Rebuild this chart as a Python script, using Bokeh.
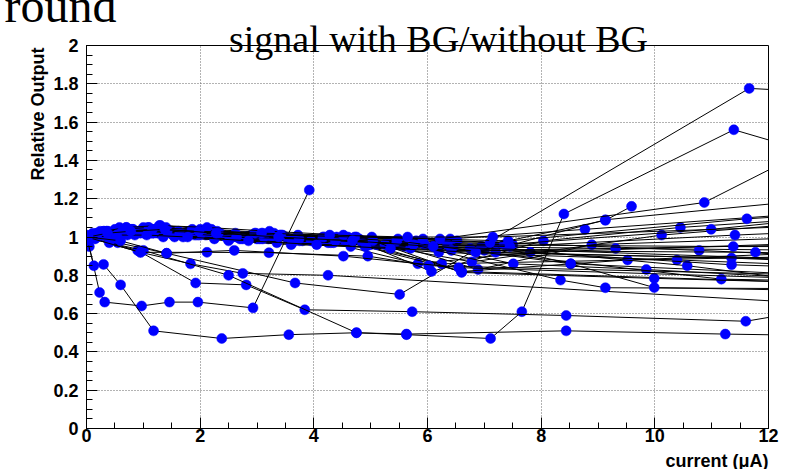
import math
from bokeh.plotting import figure
from bokeh.models import Label, Title, SingleIntervalTicker, CustomJSTickFormatter, Range1d
from bokeh.embed import file_html
from bokeh.resources import INLINE

# ---------------- data ----------------
series_x = [
    [0.00, 0.05, 0.23, 0.32, 0.97, 1.46, 1.96, 2.93, 3.92],
    [0.00, 0.13, 0.30, 0.60, 1.18, 2.38, 3.56, 4.75, 5.63, 7.11, 7.66, 8.40, 11.39, 13.0],
    [0.00, 0.90, 1.92, 2.81, 3.84, 5.73, 8.44, 11.60, 13.0],
    [0.00, 0.55, 1.41, 3.67, 5.51, 11.66, 13.0],
    [0.00, 0.95, 1.83, 2.75, 4.25, 13.0],
    [0.00, 0.40, 1.00, 2.50, 4.75, 5.63, 8.44, 11.24, 13.0],
    [0.00, 0.10, 0.35, 0.80, 1.50, 2.40, 3.50, 4.80, 6.10, 13.0],
    [0.02, 0.20, 0.50, 1.00, 1.80, 2.90, 4.10, 5.50, 7.20, 8.52, 13.0],
    [0.01, 0.12, 0.40, 0.95, 1.70, 2.70, 3.80, 5.00, 6.60, 13.0],
    [0.03, 0.25, 0.60, 1.20, 2.00, 3.10, 4.40, 5.80, 7.50, 9.13, 13.0],
    [0.00, 0.18, 0.55, 1.10, 1.90, 3.00, 4.30, 5.83, 7.81, 13.0],
    [0.02, 0.30, 0.70, 1.30, 2.20, 3.30, 4.60, 6.07, 8.04, 10.45, 13.0],
    [0.01, 0.08, 0.28, 0.65, 1.25, 2.10, 3.20, 4.50, 6.25, 13.0],
    [0.04, 0.22, 0.48, 1.05, 1.75, 2.80, 4.00, 5.30, 6.89, 8.89, 13.0],
    [0.00, 0.15, 0.42, 0.85, 1.55, 2.50, 3.60, 4.90, 6.60, 9.52, 13.0],
    [0.02, 0.35, 0.75, 1.40, 2.30, 3.40, 4.70, 6.10, 7.51, 9.85, 13.0],
    [0.01, 0.12, 0.38, 0.78, 1.45, 2.35, 3.45, 4.75, 6.40, 8.77, 13.0],
    [0.03, 0.28, 0.62, 1.15, 1.95, 3.05, 4.25, 5.60, 7.00, 9.31, 13.0],
    [0.00, 0.20, 0.52, 0.98, 1.65, 2.65, 3.75, 5.10, 6.78, 10.12, 13.0],
    [0.02, 0.10, 0.32, 0.72, 1.35, 2.25, 3.35, 4.65, 6.20, 10.39, 13.0],
    [0.01, 0.24, 0.58, 1.08, 1.85, 2.95, 4.15, 5.45, 6.95, 10.57, 13.0],
    [0.04, 0.16, 0.46, 0.92, 1.62, 2.62, 3.72, 5.02, 6.52, 10.78, 13.0],
    [0.00, 0.30, 0.68, 1.22, 2.05, 3.15, 4.45, 5.85, 7.35, 10.99, 13.0],
    [0.02, 0.14, 0.44, 0.88, 1.58, 2.55, 3.65, 4.95, 6.45, 11.17, 13.0],
    [0.01, 0.26, 0.64, 1.18, 2.00, 3.10, 4.35, 5.70, 7.20, 11.35, 13.0],
    [0.03, 0.19, 0.50, 1.02, 1.72, 2.75, 3.95, 5.25, 6.75, 11.35, 13.0],
    [0.00, 0.11, 0.36, 0.82, 1.48, 2.45, 3.55, 4.85, 6.35, 11.38, 13.0],
    [0.02, 0.33, 0.72, 1.32, 2.15, 3.25, 4.55, 5.95, 7.45, 11.41, 13.0],
    [0.01, 0.21, 0.56, 1.12, 1.88, 2.98, 4.18, 5.48, 7.10, 11.62, 13.0],
    [0.03, 0.13, 0.41, 0.86, 1.52, 2.52, 3.62, 4.92, 6.42, 11.77, 13.0],
    [0.00, 0.27, 0.66, 1.20, 2.02, 3.12, 4.38, 5.75, 8.34, 9.13, 13.0],
    [0.02, 0.17, 0.47, 0.94, 1.64, 2.64, 3.74, 5.04, 6.60, 9.99, 13.0],
    [0.01, 0.23, 0.59, 1.10, 1.86, 2.96, 4.16, 5.46, 8.52, 9.99, 13.0],
    [0.04, 0.31, 0.70, 1.28, 2.12, 3.22, 4.52, 5.92, 7.42, 9.13, 9.59],
    [0.00, 0.09, 0.34, 0.76, 1.42, 2.32, 3.42, 4.72, 6.22, 10.87, 13.0],
    [0.02, 0.29, 0.63, 1.16, 1.98, 3.08, 4.28, 5.65, 7.15, 13.0],
    [0.01, 0.18, 0.53, 1.06, 1.78, 2.85, 4.05, 5.35, 6.85, 13.0],
    [0.03, 0.37, 0.78, 1.38, 2.28, 3.38, 4.68, 6.10, 13.0],
    [0.00, 0.95, 2.12, 3.21, 4.95, 6.02, 13.0],
    [0.02, 0.60, 1.41, 2.60, 4.52, 6.55, 13.0],
]

series_y = [
    [1.00, 0.95, 0.71, 0.66, 0.64, 0.66, 0.66, 0.63, 1.245],
    [1.00, 0.85, 0.857, 0.75, 0.51, 0.47, 0.49, 0.50, 0.49, 0.47, 0.61, 1.12, 1.56, 1.42],
    [1.00, 0.93, 0.76, 0.75, 0.62, 0.61, 0.59, 0.56, 0.63],
    [1.00, 0.97, 0.915, 0.76, 0.70, 1.776, 1.755],
    [1.00, 0.92, 0.86, 0.81, 0.80, 0.65],
    [1.00, 0.97, 0.93, 0.80, 0.50, 0.493, 0.51, 0.493, 0.485],
    [1.00, 1.01, 1.03, 1.04, 1.03, 1.01, 1.00, 0.99, 0.95, 0.93],
    [1.00, 1.02, 1.04, 1.05, 1.03, 1.01, 0.99, 0.97, 0.95, 0.86, 0.80],
    [0.99, 1.00, 1.01, 1.02, 1.00, 0.99, 0.98, 0.96, 0.82, 0.76],
    [1.00, 1.01, 1.03, 1.04, 1.04, 1.02, 1.00, 0.98, 0.96, 1.09, 1.20],
    [1.01, 1.02, 1.02, 1.03, 1.01, 0.99, 0.97, 0.86, 0.92, 0.97],
    [1.00, 1.03, 1.05, 1.06, 1.04, 1.02, 1.00, 0.82, 0.98, 1.05, 1.10],
    [1.00, 1.00, 1.01, 1.02, 1.02, 1.01, 0.99, 0.98, 0.86, 0.90],
    [1.00, 1.02, 1.03, 1.03, 1.02, 1.00, 0.98, 0.97, 0.83, 0.96, 1.00],
    [0.98, 0.99, 1.00, 1.01, 1.00, 0.98, 0.96, 0.95, 0.82, 0.88, 0.92],
    [1.00, 1.02, 1.04, 1.05, 1.03, 1.01, 0.99, 0.95, 0.86, 0.83, 0.78],
    [1.00, 1.01, 1.03, 1.04, 1.03, 1.02, 1.01, 1.00, 0.99, 1.04, 1.13],
    [1.00, 1.01, 1.02, 1.02, 1.01, 0.99, 0.97, 0.95, 0.93, 0.94, 0.96],
    [1.00, 1.02, 1.03, 1.03, 1.02, 1.00, 0.98, 0.96, 0.87, 1.01, 1.08],
    [0.99, 1.00, 1.01, 1.01, 1.00, 0.99, 0.97, 0.95, 0.92, 0.88, 0.85],
    [1.00, 1.03, 1.05, 1.05, 1.03, 1.01, 0.99, 0.97, 0.95, 0.85, 0.76],
    [1.00, 1.01, 1.02, 1.03, 1.03, 1.02, 1.01, 1.00, 0.98, 0.93, 0.90],
    [1.00, 1.02, 1.03, 1.04, 1.03, 1.01, 0.99, 0.97, 0.96, 1.04, 1.10],
    [1.00, 1.01, 1.02, 1.03, 1.02, 1.00, 0.98, 0.96, 0.94, 0.78, 0.77],
    [0.99, 1.01, 1.02, 1.02, 1.01, 0.99, 0.97, 0.94, 0.92, 0.89, 0.87],
    [1.00, 1.00, 1.01, 1.02, 1.01, 0.99, 0.98, 0.96, 0.94, 0.855, 0.84],
    [1.00, 1.02, 1.03, 1.04, 1.02, 1.00, 0.99, 0.97, 0.96, 0.95, 0.95],
    [1.00, 1.01, 1.02, 1.03, 1.02, 1.00, 0.98, 0.96, 0.95, 1.01, 1.03],
    [1.00, 1.02, 1.03, 1.04, 1.03, 1.02, 1.00, 0.99, 0.97, 1.095, 1.12],
    [1.00, 1.01, 1.02, 1.02, 1.01, 0.99, 0.97, 0.95, 0.93, 0.92, 0.91],
    [1.00, 1.02, 1.03, 1.03, 1.02, 1.00, 0.98, 0.96, 0.775, 0.735, 0.73],
    [1.00, 1.01, 1.02, 1.03, 1.02, 1.00, 0.99, 0.98, 0.815, 0.784, 0.76],
    [1.00, 1.02, 1.04, 1.05, 1.04, 1.02, 1.00, 0.98, 0.86, 0.736, 0.72],
    [1.00, 1.03, 1.05, 1.06, 1.05, 1.03, 1.01, 0.99, 0.98, 1.087, 1.16],
    [1.00, 1.01, 1.02, 1.03, 1.03, 1.02, 1.01, 1.00, 0.99, 1.18, 1.50],
    [1.00, 1.02, 1.03, 1.04, 1.03, 1.02, 1.01, 1.00, 1.00, 1.06],
    [0.99, 1.00, 1.01, 1.01, 1.00, 0.98, 0.96, 0.94, 0.92, 0.88],
    [1.00, 1.02, 1.03, 1.04, 1.02, 1.00, 0.98, 0.95, 0.88],
    [1.00, 0.92, 0.92, 0.918, 0.90, 0.85, 0.80],
    [1.00, 0.98, 0.915, 0.93, 0.90, 0.84, 0.78],
]

title_text = "signal with BG/without BG"
corner_text = "round"
x_title = "current (\u03bcA)"
y_title = "Relative Output"

# ---------------- figure ----------------
W, H = 792, 469
L, R, T, B = 86, 24, 45, 41
p = figure(width=W, height=H, output_backend="svg", toolbar_location=None,
           x_range=Range1d(0, 12), y_range=Range1d(0, 2),
           min_border_left=L, min_border_right=R, min_border_top=T, min_border_bottom=B)
p.background_fill_color = "white"
p.border_fill_color = "white"
p.outline_line_color = "black"
p.outline_line_width = 1

for xs, ys in zip(series_x, series_y):
    p.line(xs, ys, line_color="black", line_width=1)
    p.scatter(xs, ys, size=10, fill_color="#0000ff", line_color="#0000ff", line_width=0.5)

xt = SingleIntervalTicker(interval=2, num_minor_ticks=4)
yt = SingleIntervalTicker(interval=0.2, num_minor_ticks=4)
p.xaxis.ticker = xt
p.yaxis.ticker = yt
p.xgrid.ticker = xt
p.ygrid.ticker = yt
p.xaxis.formatter = CustomJSTickFormatter(code="return (Math.round(tick*10)/10).toString();")
p.yaxis.formatter = CustomJSTickFormatter(code="return (Math.round(tick*10)/10).toString();")
for ax in (p.xaxis[0], p.yaxis[0]):
    ax.major_tick_in = 11
    ax.major_tick_out = 0
    ax.minor_tick_in = 6
    ax.minor_tick_out = 0
    ax.axis_line_color = "black"
    ax.major_tick_line_color = "black"
    ax.minor_tick_line_color = "black"
    ax.major_label_text_font = "Liberation Sans"
    ax.major_label_text_font_style = "bold"
    ax.major_label_text_font_size = "18px"
    ax.major_label_text_color = "black"
p.xaxis.major_label_standoff = 0
p.yaxis.major_label_standoff = 8

for g in (p.xgrid[0], p.ygrid[0]):
    g.grid_line_color = "#666666"
    g.grid_line_dash = "1 2"
    g.grid_line_width = 1

def dx(px):
    return (px - L) / ((W - L - R) / 12.0)

def dy(py):
    return (H - B - py) / ((H - B - T) / 2.0)

# texts live in side panels (not clipped); positions are given in data units
p.add_layout(Label(x=dx(438), y=dy(38), text=title_text, text_font="Liberation Serif",
                   text_font_size="38px", text_align="center", text_baseline="alphabetic",
                   text_color="black"), "above")
p.add_layout(Label(x=dx(37), y=dy(47), text=y_title, text_font="Liberation Sans",
                   text_font_style="bold", text_font_size="18px", angle=math.pi / 2,
                   text_align="right", text_baseline="alphabetic", text_color="black"), "right")
p.add_layout(Label(x=dx(768), y=dy(460), text=x_title, text_font="Liberation Sans",
                   text_font_style="bold", text_font_size="18px", text_align="right",
                   text_baseline="alphabetic", text_color="black"), "below")

# the cut-off word at the top-left corner: a title whose negative standoff
# keeps it from taking any room in the layout
p.title = Title(text=corner_text, text_font="Liberation Serif", text_font_size="48px",
                text_font_style="normal", text_color="black", align="left",
                offset=-82, standoff=-56, vertical_align="bottom")

open("out.html", "w").write(file_html(p, INLINE))
